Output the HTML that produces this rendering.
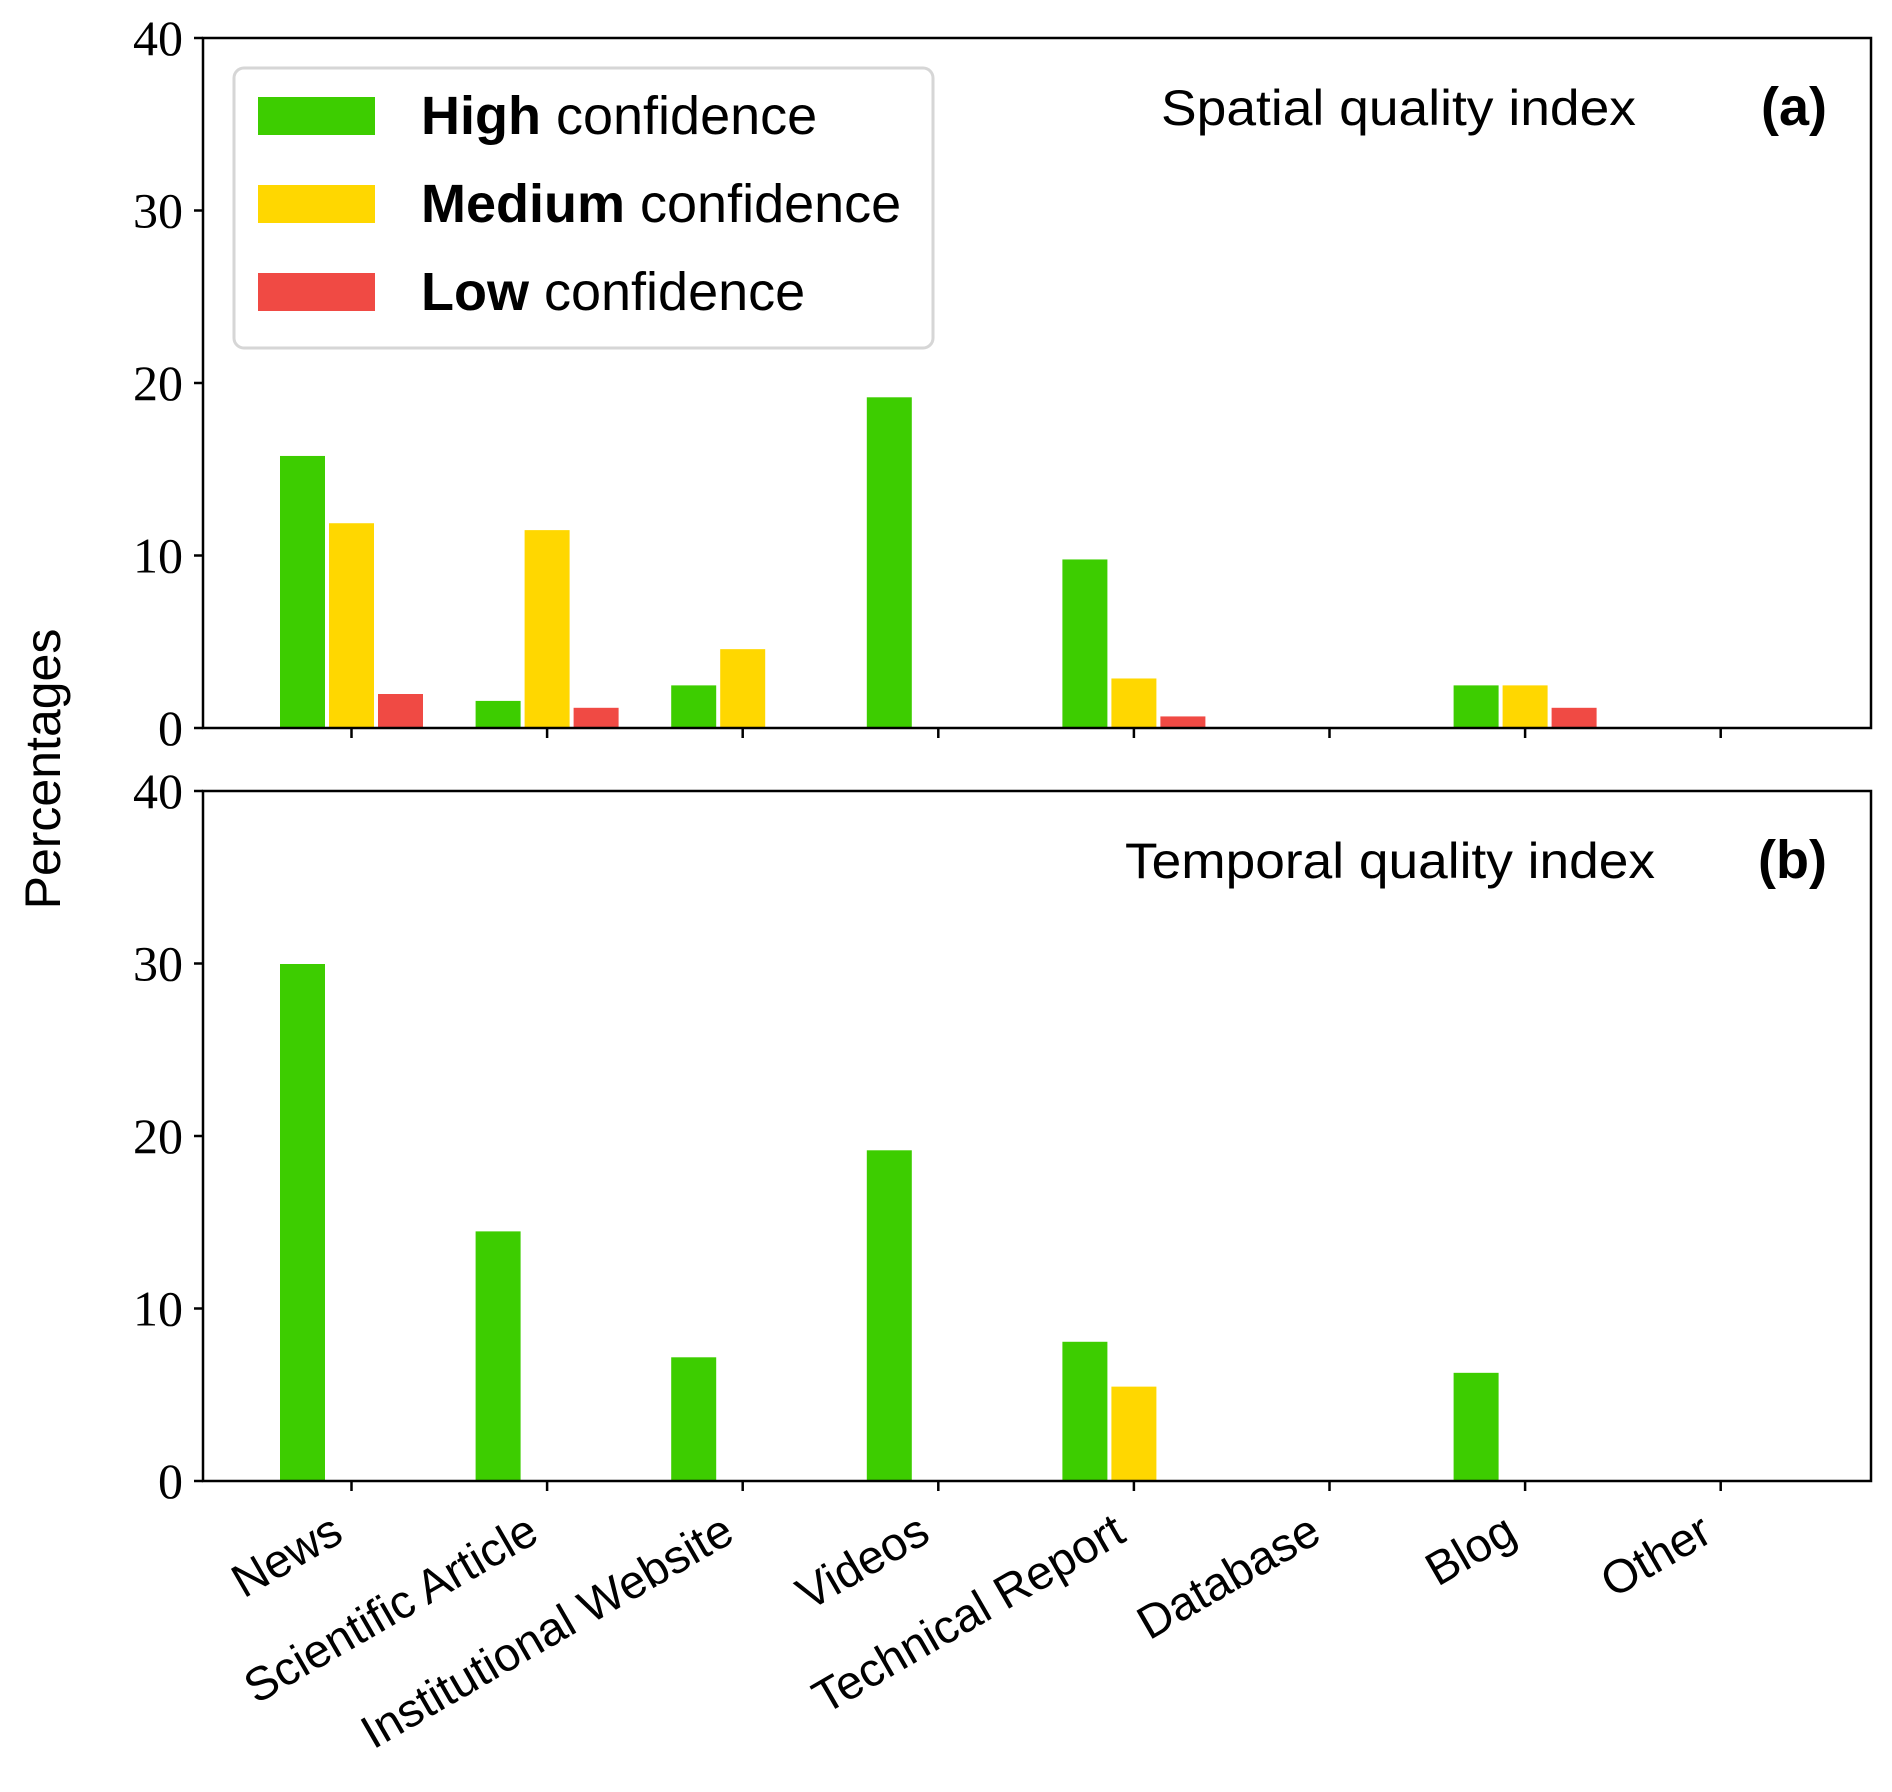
<!DOCTYPE html>
<html><head><meta charset="utf-8"><style>
html,body{margin:0;padding:0;background:#fff;}
svg{display:block;}
</style></head><body>
<svg id="chart" width="1892" height="1792" viewBox="0 0 1892 1792" xmlns="http://www.w3.org/2000/svg"></svg>
<script>
const categories = ["News","Scientific Article","Institutional Website","Videos","Technical Report","Database","Blog","Other"];
const spatialHigh = [15.8, 1.6, 2.5, 19.2, 9.8, 0, 2.5, 0];
const spatialMedium = [11.9, 11.5, 4.6, 0, 2.9, 0, 2.5, 0];
const spatialLow = [2.0, 1.2, 0, 0, 0.7, 0, 1.2, 0];
const temporalHigh = [30.0, 14.5, 7.2, 19.2, 8.1, 0, 6.3, 0];
const temporalMedium = [0, 0, 0, 0, 5.5, 0, 0, 0];
const temporalLow = [0, 0, 0, 0, 0, 0, 0, 0];
const yTicks = [0, 10, 20, 30, 40];

const NS = "http://www.w3.org/2000/svg";
const svg = document.getElementById("chart");
const colors = ["#3dcd00", "#ffd700", "#f04a44"];
const L = 203, R = 1871, tick0 = 351.5, step = 195.6, bw = 46, off = 49;
function xScale(i){ return tick0 + i*step; }
function mk(tag, attrs, parent){ const e = document.createElementNS(NS, tag); for (const k in attrs) e.setAttribute(k, attrs[k]); (parent||svg).appendChild(e); return e; }

function panel(top, bottom, series, title, titleX, titleW, label, name){
  const g = mk("g", {});
  
  
  const y = v => bottom - v/40*(bottom-top);
  series.forEach((vals, s) => {
    vals.forEach((v, i) => {
      if (v <= 0) return;
      const r = mk("rect", {x: xScale(i) + (s-1)*off - bw/2, y: y(v), width: bw, height: bottom - y(v), fill: colors[s], stroke: "#fff", "stroke-width": 1}, g);
      
      
    });
  });
  const frame = mk("rect", {x: L, y: top, width: R-L, height: bottom-top, fill: "none", stroke: "#000", "stroke-width": 2.5}, g);
  
  
  yTicks.forEach(t => {
    mk("line", {x1: L-9, x2: L, y1: y(t), y2: y(t), stroke: "#000", "stroke-width": 2.5}, g);
    const tx = mk("text", {x: L-20, y: y(t)+17, "text-anchor": "end", "font-family": "Liberation Serif, serif", "font-size": 50}, g);
    tx.textContent = t;
    
    
  });
  categories.forEach((c, i) => {
    mk("line", {x1: xScale(i), x2: xScale(i), y1: bottom, y2: bottom+10, stroke: "#000", "stroke-width": 2.5}, g);
  });
  const tt = mk("text", {x: titleX, y: top+87, "font-family": "Liberation Sans, sans-serif", "font-size": 50, textLength: titleW, lengthAdjust: "spacingAndGlyphs"}, g);
  tt.textContent = title;
  
  
  const lb = mk("text", {x: 1827, y: top+87, "text-anchor": "end", "font-family": "Liberation Sans, sans-serif", "font-size": 54, "font-weight": "bold"}, g);
  lb.textContent = label;
  
  
  return y;
}

panel(38, 728, [spatialHigh, spatialMedium, spatialLow], "Spatial quality index", 1161, 475, "(a)", "spatial-panel");
panel(791, 1481, [temporalHigh, temporalMedium, temporalLow], "Temporal quality index", 1125, 530, "(b)", "temporal-panel");

categories.forEach((c, i) => {
  const x = xScale(i) - 6, y = 1540;
  const t = mk("text", {x: x, y: y, "text-anchor": "end", "font-family": "Liberation Sans, sans-serif", "font-size": 47, transform: "rotate(-30 " + x + " " + y + ")"});
  t.textContent = c;
  
  
});

const yl = mk("text", {x: 60, y: 769, "text-anchor": "middle", "font-family": "Liberation Sans, sans-serif", "font-size": 50, transform: "rotate(-90 60 769)"});
yl.textContent = "Percentages";



// legend
const lg = mk("g", {});


mk("rect", {x: 234, y: 68, width: 699, height: 280, rx: 10, fill: "#fff", stroke: "#d6d6d6", "stroke-width": 3}, lg);
const legendNames = ["High", "Medium", "Low"];
const legendY = [116, 204, 292];
legendNames.forEach((n, k) => {
  const p = mk("rect", {x: 258, y: legendY[k]-19, width: 117, height: 38, fill: colors[k]}, lg);
  
  
  const t = mk("text", {x: 421, y: legendY[k]+18, "font-family": "Liberation Sans, sans-serif", "font-size": 54}, lg);
  
  
  const b = mk("tspan", {"font-weight": "bold"}, t); b.textContent = n;
  const r = mk("tspan", {}, t); r.textContent = " confidence";
});
</script>
</body></html>
